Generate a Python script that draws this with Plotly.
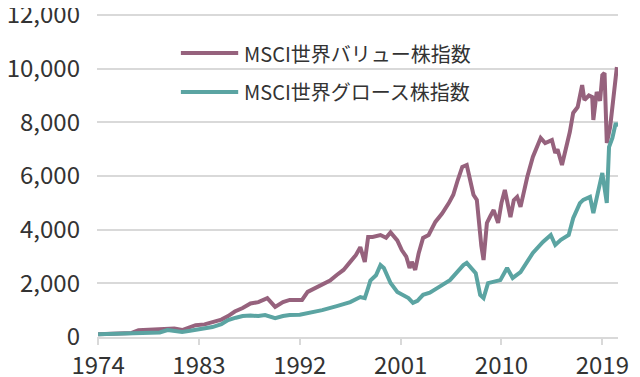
import plotly.graph_objects as go

# --- data ---
value_years = [1974.0, 1975.0, 1976.0, 1977.0, 1977.6, 1978.5, 1979.5, 1980.2, 1980.8, 1981.5,
               1982.2, 1982.7, 1983.5, 1984.2, 1985.0, 1985.6, 1986.2, 1986.9, 1987.6, 1988.3,
               1989.1, 1989.8, 1990.5, 1991.1, 1992.2, 1992.7, 1993.3, 1994.0, 1994.7, 1995.3,
               1995.9, 1996.5, 1997.0, 1997.4, 1997.8, 1998.1, 1998.5, 1999.2, 1999.7, 2000.1,
               2000.7, 2001.1, 2001.5, 2001.8, 2002.0, 2002.3, 2002.6, 2003.0, 2003.5, 2004.1,
               2004.7, 2005.3, 2005.7, 2006.1, 2006.5, 2006.9, 2007.2, 2007.5, 2007.8, 2008.0,
               2008.2, 2008.4, 2008.7, 2009.0, 2009.3, 2009.7, 2010.0, 2010.3, 2010.8, 2011.1,
               2011.4, 2011.7, 2012.3, 2012.8, 2013.2, 2013.5, 2013.9, 2014.5, 2014.8, 2015.0,
               2015.4, 2015.9, 2016.1, 2016.4, 2016.8, 2017.2, 2017.4, 2017.8, 2018.1, 2018.2,
               2018.5, 2018.8, 2019.0, 2019.2, 2019.4, 2019.7, 2019.9, 2020.2, 2020.3]
value_index = [100, 110, 130, 150, 250, 270, 300, 340, 320, 260,
               380, 440, 470, 560, 650, 780, 950, 1080, 1250, 1300,
               1450, 1120, 1300, 1380, 1380, 1680, 1800, 1940, 2100, 2310,
               2500, 2800, 3050, 3350, 2800, 3730, 3730, 3800, 3700, 3900,
               3600, 3240, 3000, 2570, 2800, 2500, 3100, 3690, 3800, 4290,
               4600, 4990, 5300, 5850, 6340, 6410, 5800, 5300, 5110, 4200,
               3400, 2870, 4250, 4500, 4730, 4250, 5000, 5480, 4470, 5100,
               5220, 4850, 5960, 6710, 7100, 7420, 7230, 7340, 6860, 7000,
               6410, 7230, 7640, 8350, 8570, 9390, 8830, 9000, 8940, 8090,
               9130, 8800, 9760, 9840, 7230, 7830, 8720, 9690, 10060]

growth_years = [1974.0, 1976.0, 1978.0, 1979.5, 1980.2, 1980.8, 1981.5, 1982.2, 1982.7, 1983.5,
                1984.2, 1985.0, 1985.6, 1986.3, 1986.9, 1987.6, 1988.3, 1988.9, 1989.8, 1990.5,
                1991.1, 1992.0, 1993.0, 1994.0, 1995.3, 1996.5, 1997.4, 1997.8, 1998.1, 1998.3,
                1998.8, 1999.2, 1999.5, 2000.1, 2000.7, 2001.2, 2001.7, 2002.1, 2002.5, 2003.0,
                2003.6, 2004.3, 2005.4, 2006.0, 2006.6, 2006.9, 2007.2, 2007.7, 2008.1, 2008.4,
                2008.8, 2009.3, 2009.9, 2010.5, 2011.0, 2011.7, 2012.8, 2013.7, 2014.4, 2014.8,
                2015.3, 2016.0, 2016.4, 2017.0, 2017.3, 2017.9, 2018.2, 2018.6, 2019.0, 2019.4,
                2019.6, 2019.9, 2020.2, 2020.3]
growth_index = [100, 120, 150, 170, 260, 240, 190, 230, 260, 300,
                370, 480, 630, 720, 780, 800, 780, 820, 700, 780,
                820, 830, 900, 1000, 1150, 1300, 1490, 1450, 1830, 2100,
                2300, 2680, 2570, 2010, 1680, 1570, 1450, 1270, 1350, 1570,
                1650, 1830, 2120, 2400, 2680, 2760, 2610, 2380, 1570, 1450,
                2010, 2050, 2120, 2570, 2200, 2420, 3130, 3540, 3800, 3430,
                3620, 3800, 4430, 4990, 5110, 5220, 4620, 5370, 6110, 5000,
                7080, 7420, 7980, 7830]

series_names = ["MSCI世界バリュー株指数", "MSCI世界グロース株指数"]
x_tick_years = [1974, 1983, 1992, 2001, 2010, 2019]
y_tick_step = 2000
y_axis_max_tick = 12000

# --- styles ---
colors = ["#96627D", "#5BA4A2"]
font_family = "Noto Sans CJK JP"
text_color = "#333333"
grid_color = "#D9D9D9"

fig = go.Figure()
fig.add_trace(go.Scatter(x=value_years, y=value_index, mode="lines", name=series_names[0],
                         line=dict(color=colors[0], width=4), showlegend=False))
fig.add_trace(go.Scatter(x=growth_years, y=growth_index, mode="lines", name=series_names[1],
                         line=dict(color=colors[1], width=4), showlegend=False))

# top gridline (plotly drops the grid line next to the plot edge)
fig.add_shape(type="line", xref="paper", yref="y", x0=0, x1=1,
              y0=y_axis_max_tick, y1=y_axis_max_tick, layer="below",
              line=dict(color=grid_color, width=2))

# manual legend (long line samples as in the reference)
legend_rows_y = [0.863, 0.745]
for name, color, ly in zip(series_names, colors, legend_rows_y):
    fig.add_shape(type="line", xref="paper", yref="paper", x0=0.161, x1=0.271, y0=ly, y1=ly,
                  line=dict(color=color, width=4))
    fig.add_annotation(xref="paper", yref="paper", x=0.279, y=ly, text=name, showarrow=False,
                       xanchor="left", yanchor="middle",
                       font=dict(family=font_family, size=20, color=text_color))

# the page body has an 8px margin, so the figure is 8px smaller in each direction
fig.update_layout(
    width=632, height=369,
    margin=dict(l=89, r=22, t=0, b=40),
    paper_bgcolor="white", plot_bgcolor="white",
    font=dict(family=font_family, color=text_color),
    showlegend=False,
)
fig.update_xaxes(
    range=[1973.9, 2020.4],
    tickvals=x_tick_years, ticktext=[str(v) for v in x_tick_years],
    showgrid=False, zeroline=False, automargin=False,
    showline=True, linecolor=grid_color, linewidth=2,
    ticks="outside", ticklen=6, tickwidth=2, tickcolor=grid_color,
    tickfont=dict(family=font_family, size=24, color=text_color),
    ticklabelstandoff=0, ticklabeloverflow="allow",
)
fig.update_yaxes(
    range=[0, 12261],
    tickmode="linear", tick0=0, dtick=y_tick_step, tickformat=",d",
    showgrid=True, gridcolor=grid_color, gridwidth=2,
    zeroline=False, showline=False, automargin=False,
    tickfont=dict(family=font_family, size=24, color=text_color),
    ticklabelstandoff=16, ticklabeloverflow="allow",
)

fig.write_html("out.html")
